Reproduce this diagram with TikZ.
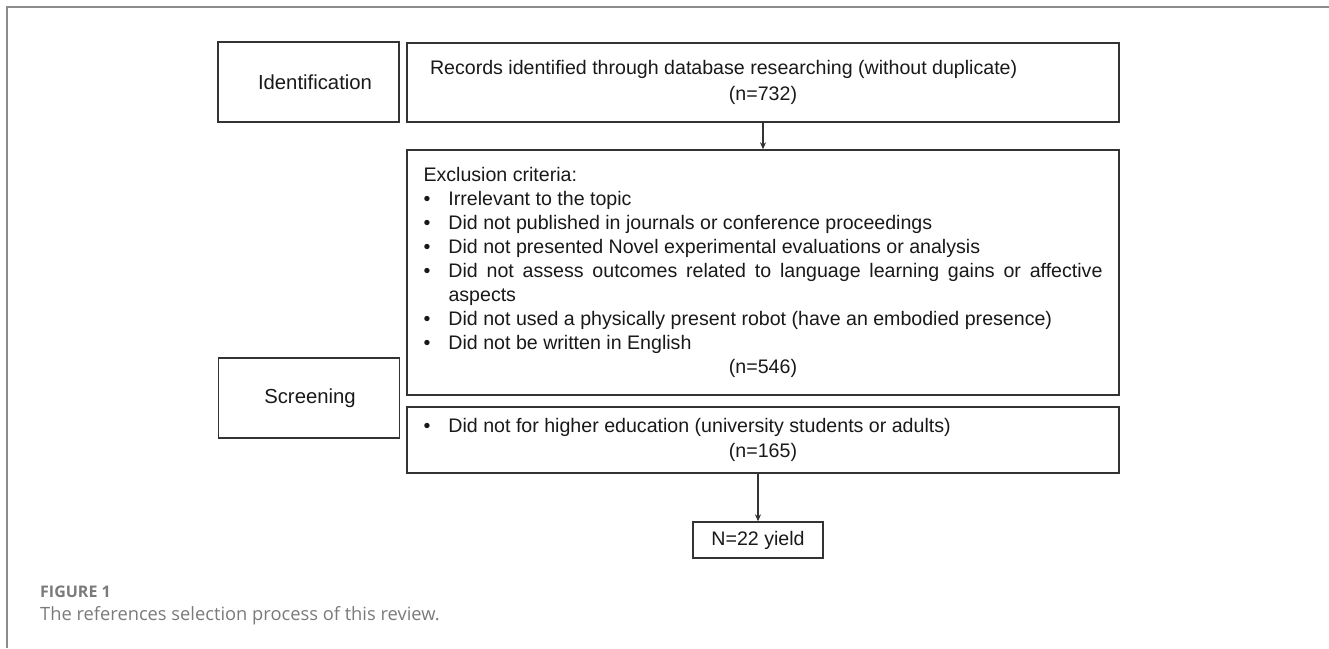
\documentclass[tikz,border=0pt]{standalone}
\usepackage{fontspec}
\setmainfont{Liberation Sans}
\newfontfamily\capfont{Open Sans}
\usetikzlibrary{arrows.meta}
\definecolor{boxline}{HTML}{333333}
\definecolor{framegray}{HTML}{8C8C8C}
\definecolor{capgray}{HTML}{7A7A7A}
\newcommand\bitem[1]{\par\noindent\hangindent=25pt\hangafter=1\makebox[25pt][l]{\hspace{0pt}\textbullet}#1\par}
\begin{document}
\begin{tikzpicture}[x=1pt,y=-1pt,
  box/.style={draw=boxline,line width=1.4pt,inner sep=0pt,align=center,
    font=\fontsize{19.6}{24}\selectfont,text=black!90},
  arr/.style={draw=boxline,line width=1.4pt,-{Stealth[length=7pt,width=6pt]}},
  frameline/.style={draw=framegray,line width=2pt},
  captxt/.style={inner sep=0pt,anchor=west,text=capgray}]
\useasboundingbox (0,0) rectangle (1329,648);
\draw[frameline] (7,648) -- (7,7) -- (1329,7);

\node[box,minimum width=181pt,minimum height=80pt,font=\fontsize{20.3}{24}\selectfont] (ident) at (308.5,82) {\hspace*{13pt}Identification};
\node[box,minimum width=181pt,minimum height=80pt,font=\fontsize{20.3}{24}\selectfont] (scr) at (309,398) {\hspace*{2pt}Screening};

\node[box,minimum width=712pt,minimum height=79pt] (rec) at (763,82.5)
  {\parbox{666pt}{\baselineskip=26pt Records identified through database researching (without duplicate)\par\centering (n=732)\par}};

\node[box,minimum width=712pt,minimum height=245pt] (exc) at (763,272.5)
  {\parbox{679pt}{\fontsize{19.6}{24}\selectfont
   Exclusion criteria:
   \bitem{Irrelevant to the topic}
   \bitem{Did not published in journals or conference proceedings}
   \bitem{Did not presented Novel experimental evaluations or analysis}
   \bitem{Did not assess outcomes related to language learning gains or affective\linebreak aspects}
   \bitem{Did not used a physically present robot (have an embodied presence)}
   \bitem{Did not be written in English}
   \centering (n=546)\par}};

\node[box,minimum width=712pt,minimum height=66pt] (high) at (763,440)
  {\parbox{679pt}{\fontsize{19.6}{25}\selectfont
   \bitem{Did not for higher education (university students or adults)}
   \centering (n=165)\par}};

\node[box,minimum width=130pt,minimum height=36pt] (yield) at (758,540) {N=22 yield};

\draw[arr] (rec.south) -- (exc.north);
\draw[arr] (high.south -| yield.north) -- (yield.north);

\node[captxt,font=\capfont\bfseries\fontsize{16}{18}\selectfont] (fig) at (40,592) {FIGURE 1};
\node[captxt,font=\capfont\fontsize{18.3}{20}\selectfont] (cap) at (40,616) {The references selection process of this review.};
\end{tikzpicture}
\end{document}
